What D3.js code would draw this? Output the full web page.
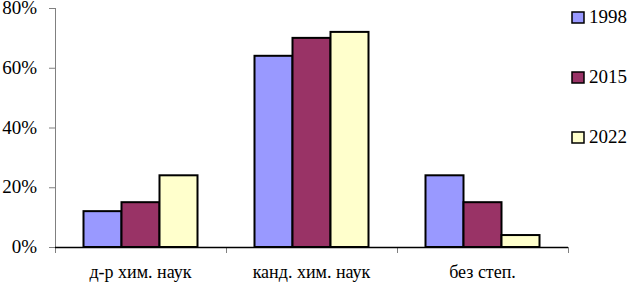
<!DOCTYPE html>
<head>
  <meta charset="utf-8">
  <script src="https://d3js.org/d3.v7.min.js"></script>
  <style>
    body { margin: 0; background: #fff; }
  </style>
</head>
<body>
  <svg width="635" height="284">
    <g id="plot"></g>
    <g id="ylabels" font-family="Liberation Serif" font-size="19" text-anchor="end">
      <text></text><text></text><text></text><text></text><text></text>
    </g>
    <g id="xlabels" font-family="Liberation Serif" font-size="18" text-anchor="middle">
      <text></text><text></text><text></text>
    </g>
    <g id="legend"></g>
    <g id="legendText" font-family="Liberation Serif" font-size="19">
      <text></text><text></text><text></text>
    </g>
  </svg>
  <script>
var categories = ["д-р хим. наук", "канд. хим. наук", "без степ."];
var years = ["1998", "2015", "2022"];
var values1998 = [12, 64, 24];
var values2015 = [15, 70, 15];
var values2022 = [24, 72, 4];
var yTicks = [0, 20, 40, 60, 80];
var colours = ["#9999FF", "#993366", "#FFFFCC"];

var series = [values1998, values2015, values2022];
var data = categories.map(function(c, i) {
  return { cat: c, vals: years.map(function(y, j) { return { year: y, value: series[j][i] }; }) };
});

var svg = d3.select("svg"),
    plot = d3.select("#plot"),
    plotLeft = 55, plotRight = 568, plotTop = 8, plotBottom = 247;

var x = d3.scaleBand().domain(categories).range([plotLeft, plotRight]);
// 3 bars with a 150% gap width: each bar = band / 4.5
var barW = x.bandwidth() / 4.5;
var y = d3.scaleLinear().domain([0, 80]).range([plotBottom, plotTop]);

var colour = d3.scaleOrdinal().domain(years).range(colours);

// y axis
plot.append("line").attr("x1", plotLeft + 0.5).attr("x2", plotLeft + 0.5).attr("y1", plotTop).attr("y2", plotBottom)
  .attr("stroke", "#808080").attr("stroke-width", 1);
plot.selectAll(".ytick").data(yTicks).enter().append("line")
  .attr("x1", plotLeft - 6).attr("x2", plotLeft)
  .attr("y1", function(d) { return y(d) + 0.5; }).attr("y2", function(d) { return y(d) + 0.5; })
  .attr("stroke", "#808080");
d3.select("#ylabels").selectAll("text").data(yTicks)
  .attr("x", 37).attr("y", function(d) { return y(d) + 6; })
  .text(function(d) { return d + "%"; });

// x ticks
var xt = [plotLeft].concat(categories.map(function(c) { return x(c) + x.bandwidth(); }));
plot.selectAll(".xtick").data(xt).enter().append("line")
  .attr("x1", function(d) { return d + 0.5; }).attr("x2", function(d) { return d + 0.5; })
  .attr("y1", plotBottom).attr("y2", plotBottom + 6)
  .attr("stroke", "#808080");

// bars
var g = plot.selectAll(".grp").data(data).enter().append("g")
  .attr("transform", function(d) { return "translate(" + x(d.cat) + ",0)"; });
g.selectAll("rect").data(function(d) { return d.vals; }).enter().append("rect")
  .attr("x", function(d, j) { return barW * 0.75 + j * barW; })
  .attr("y", function(d) { return y(d.value); })
  .attr("width", barW)
  .attr("height", function(d) { return plotBottom - y(d.value); })
  .attr("fill", function(d) { return colour(d.year); })
  .attr("stroke", "#000").attr("stroke-width", 2);

// x axis baseline
plot.append("line").attr("x1", plotLeft).attr("x2", plotRight).attr("y1", plotBottom + 0.5).attr("y2", plotBottom + 0.5)
  .attr("stroke", "#000").attr("stroke-width", 1.3);

d3.select("#xlabels").selectAll("text").data(categories)
  .attr("x", function(d) { return x(d) + x.bandwidth() / 2; })
  .attr("y", 278)
  .text(function(d) { return d; });

// legend
d3.select("#legend").selectAll("rect").data(years).enter().append("rect")
  .attr("x", 572).attr("y", function(d, i) { return 12 + i * 60; })
  .attr("width", 12).attr("height", 11)
  .attr("fill", function(d) { return colour(d); })
  .attr("stroke", "#000").attr("stroke-width", 1.5);
d3.select("#legendText").selectAll("text").data(years)
  .attr("x", 589).attr("y", function(d, i) { return 23 + i * 60; })
  .text(function(d) { return d; });
  </script>
</body>
